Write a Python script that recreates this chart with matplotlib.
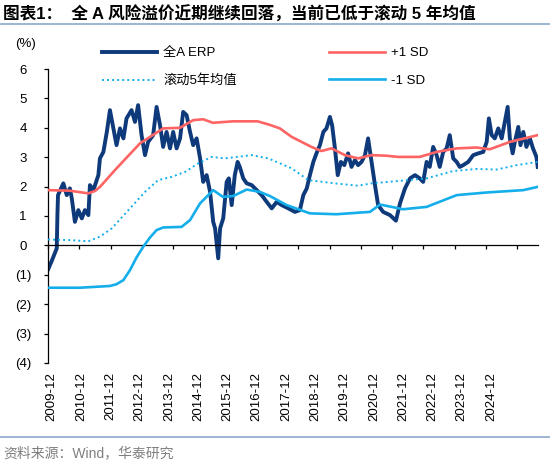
import matplotlib
matplotlib.use("Agg")
import matplotlib.pyplot as plt
from matplotlib.lines import Line2D

FAM = ['Liberation Sans', 'Noto Sans CJK SC', 'DejaVu Sans']
plt.rcParams['font.family'] = FAM

# ---- data (decimal year, value %) ----
erp_x = [2010.01, 2010.13, 2010.28, 2010.30, 2010.32, 2010.49, 2010.60, 2010.70, 2010.76, 2010.86,
         2010.97, 2011.08, 2011.18, 2011.29, 2011.34, 2011.45, 2011.61, 2011.66, 2011.77, 2011.88,
         2011.98, 2012.09, 2012.19, 2012.30, 2012.41, 2012.51, 2012.67, 2012.78, 2012.88, 2012.99,
         2013.10, 2013.20, 2013.36, 2013.47, 2013.58, 2013.68, 2013.79, 2013.90, 2014.00, 2014.11,
         2014.22, 2014.32, 2014.43, 2014.54, 2014.64, 2014.75, 2014.86, 2014.96, 2015.07, 2015.18,
         2015.28, 2015.34, 2015.44, 2015.50, 2015.60, 2015.71, 2015.78, 2015.87, 2015.97, 2016.06,
         2016.13, 2016.24, 2016.35, 2016.51, 2016.67, 2016.83, 2016.99, 2017.15, 2017.31, 2017.47,
         2017.68, 2017.89, 2018.05, 2018.16, 2018.27, 2018.37, 2018.48, 2018.58, 2018.69, 2018.80,
         2018.90, 2019.01, 2019.08, 2019.17, 2019.26, 2019.36, 2019.47, 2019.59, 2019.70, 2019.81,
         2019.91, 2020.02, 2020.13, 2020.23, 2020.34, 2020.45, 2020.55, 2020.71, 2020.93, 2021.12,
         2021.25, 2021.41, 2021.57, 2021.73, 2021.88, 2021.99, 2022.10, 2022.20, 2022.31, 2022.42,
         2022.52, 2022.63, 2022.74, 2022.84, 2022.95, 2023.06, 2023.16, 2023.27, 2023.43, 2023.59,
         2023.75, 2023.91, 2024.02, 2024.09, 2024.18, 2024.28, 2024.39, 2024.50, 2024.60, 2024.69,
         2024.76, 2024.85, 2024.92, 2025.03, 2025.10, 2025.19, 2025.29, 2025.40, 2025.50, 2025.61,
         2025.65]
erp_y = [-0.80, -0.50, -0.10, 1.00, 1.71, 2.11, 1.71, 1.94, 1.60, 0.80,
         1.20, 0.92, 1.20, 1.03, 2.05, 1.88, 2.39, 2.96, 3.18, 3.86,
         4.60, 3.98, 3.41, 3.98, 3.64, 4.32, 4.60, 4.20, 4.77, 3.75,
         3.07, 3.52, 3.75, 4.71, 4.09, 3.35, 3.86, 3.30, 3.86, 3.30,
         3.64, 4.54, 4.43, 3.86, 3.41, 3.64, 2.96, 2.16, 2.39, 1.82,
         0.80, 0.58, -0.44, 0.58, 0.92, 2.16, 2.28, 1.37, 2.39, 2.84,
         2.67, 2.28, 2.11, 2.05, 1.88, 1.71, 1.48, 1.26, 1.48, 1.37,
         1.26, 1.14, 1.20, 1.71, 1.94, 2.39, 2.84, 3.13, 3.41, 3.86,
         3.98, 4.37, 4.09, 3.30, 2.39, 2.84, 2.73, 3.13, 2.67, 2.90,
         2.73, 2.84, 3.07, 3.64, 2.84, 2.05, 1.37, 1.14, 1.03, 0.84,
         1.43, 1.94, 2.28, 2.39, 2.28, 2.16, 2.84, 2.67, 3.35, 3.07,
         2.67, 3.18, 3.30, 3.75, 2.96, 2.84, 2.67, 2.73, 2.84, 3.07,
         3.13, 3.18, 3.52, 4.32, 3.75, 3.64, 3.98, 3.64, 4.20, 4.71,
         3.64, 3.13, 3.52, 4.03, 3.41, 3.86, 3.35, 3.64, 3.30, 3.01,
         2.67]

mean_x = [2010.00, 2010.70, 2011.29, 2011.66, 2012.04, 2012.57, 2013.10, 2013.52, 2013.95, 2014.38,
          2014.80, 2015.23, 2015.65, 2016.51, 2017.04, 2017.79, 2018.32, 2019.17, 2019.91, 2020.34,
          2021.19, 2022.10, 2022.95, 2023.70, 2024.34, 2024.98, 2025.65]
mean_y = [0.20, 0.18, 0.14, 0.30, 0.58, 1.20, 1.82, 2.22, 2.33, 2.50,
          2.79, 3.01, 2.96, 3.07, 2.96, 2.62, 2.22, 2.11, 2.03, 2.11,
          2.19, 2.28, 2.53, 2.60, 2.58, 2.73, 2.84]

up_x = [2010.01, 2010.70, 2011.29, 2011.50, 2011.66, 2012.19, 2012.94, 2013.68, 2013.95, 2014.22,
        2014.64, 2014.96, 2015.27, 2015.91, 2016.70, 2017.09, 2017.41, 2017.79, 2018.42, 2018.74,
        2019.06, 2019.49, 2019.91, 2020.34, 2020.82, 2021.19, 2021.88, 2022.42, 2023.06, 2023.70,
        2024.12, 2024.76, 2025.65]
up_y = [1.88, 1.86, 1.77, 1.85, 1.99, 2.62, 3.47, 3.98, 3.99, 4.00,
        4.26, 4.29, 4.17, 4.22, 4.22, 4.10, 3.98, 3.69, 3.35, 3.21,
        3.30, 3.07, 2.96, 3.07, 3.05, 3.01, 3.01, 3.18, 3.30, 3.33,
        3.27, 3.52, 3.75]

dn_x = [2010.00, 2011.02, 2011.98, 2012.19, 2012.41, 2012.62, 2012.83, 2013.04, 2013.26, 2013.47,
        2013.68, 2014.27, 2014.54, 2014.86, 2015.28, 2015.59, 2015.92, 2016.35, 2016.77, 2017.09,
        2017.63, 2018.37, 2019.22, 2020.29, 2020.61, 2021.35, 2022.10, 2023.06, 2024.02, 2025.19,
        2025.65]
dn_y = [-1.44, -1.44, -1.38, -1.32, -1.18, -0.84, -0.41, -0.05, 0.27, 0.52,
        0.61, 0.63, 0.86, 1.43, 1.88, 1.65, 1.68, 1.90, 1.82, 1.68,
        1.37, 1.09, 1.06, 1.14, 1.39, 1.23, 1.31, 1.71, 1.80, 1.88,
        1.99]

tick_years = list(range(2010, 2026))
x_labels = ['2009-12', '2010-12', '2011-12', '2012-12', '2013-12', '2014-12', '2015-12', '2016-12',
            '2017-12', '2018-12', '2019-12', '2020-12', '2021-12', '2022-12', '2023-12', '2024-12']
y_ticks = [6, 5, 4, 3, 2, 1, 0, -1, -2, -3, -4]

NAVY = '#0E3A7B'
RED = '#FF6464'
SKY = '#14AEEB'

fig = plt.figure(figsize=(5.5, 4.67), dpi=100)
ax = fig.add_axes([48/550, 104/467, 490/550, 294/467])

ax.plot(erp_x, erp_y, color=NAVY, lw=2.8, solid_joinstyle='round', label='全A ERP', zorder=2)
ax.plot(mean_x, mean_y, color=SKY, lw=1.4, ls=(0, (1, 1.6)), label='滚动5年均值', zorder=3)
ax.plot(up_x, up_y, color=RED, lw=1.9, solid_joinstyle='round', label='+1 SD', zorder=3)
ax.plot(dn_x, dn_y, color=SKY, lw=1.9, solid_joinstyle='round', label='-1 SD', zorder=3)

ax.set_xlim(2010.0, 2025.66)
ax.set_ylim(-4, 6)
for s in ['top', 'right']:
    ax.spines[s].set_visible(False)
ax.spines['bottom'].set_position(('data', 0))
ax.spines['bottom'].set_linewidth(0.9)
ax.spines['left'].set_linewidth(0.9)
ax.set_xticks(tick_years)
ax.tick_params(axis='x', direction='out', length=3, width=0.9, labelbottom=False)
ax.set_yticks(y_ticks)
ax.set_yticklabels([str(v) if v >= 0 else f'({-v})' for v in y_ticks], fontsize=9.5)
ax.tick_params(axis='y', direction='out', length=3, width=0.9, pad=15)
for t in ax.get_yticklabels():
    t.set_horizontalalignment('center')

# rotated date labels along the bottom
lab_pos = [2010.12 + 0.936 * i for i in range(len(x_labels))]
sec = ax.secondary_xaxis(0.0)
sec.set_xticks(lab_pos)
sec.set_xticklabels(x_labels, rotation=90, fontsize=9.5, va='top')
sec.tick_params(length=0, pad=6.5)
sec.spines['bottom'].set_visible(False)

ax.text(-0.045, 1.085, '(%)', transform=ax.transAxes, fontsize=9.5, ha='center', va='center')

leg = ax.legend(handles=ax.get_lines()[:4], ncol=2, frameon=False, fontsize=9.5,
                loc='upper left', bbox_to_anchor=(102/550, 1 - 47/467), bbox_transform=fig.transFigure,
                handlelength=4.2, handletextpad=0.45, columnspacing=7.0, labelspacing=1.15,
                borderpad=0, borderaxespad=0)

# title, rules and source
fig.text(3/550, 1 - 14/467, '图表1：  全 A 风险溢价近期继续回落，当前已低于滚动 5 年均值',
         fontsize=12, fontweight='bold', ha='left', va='center', family=FAM)
fig.add_artist(Line2D([0, 1], [1 - 24/467, 1 - 24/467], transform=fig.transFigure,
                      color='#8EA9CB', lw=1.2))
fig.add_artist(Line2D([0, 1], [1 - 437/467, 1 - 437/467], transform=fig.transFigure,
                      color='#8EA9CB', lw=1.2))
fig.text(3/550, 1 - 453/467, '资料来源：Wind，华泰研究', fontsize=10, color='#7F7F7F',
         ha='left', va='center', family=FAM)

fig.savefig('out.png', dpi=100)
